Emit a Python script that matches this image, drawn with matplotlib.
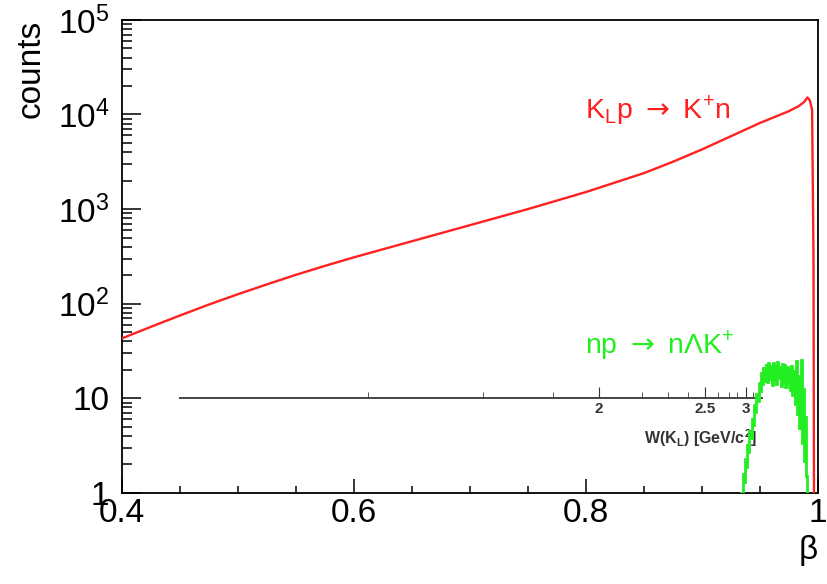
import numpy as np
import matplotlib
matplotlib.use('Agg')
import matplotlib.pyplot as plt
from matplotlib.ticker import LogLocator, NullFormatter, MultipleLocator

plt.rcParams['font.family'] = ['Liberation Sans', 'DejaVu Sans']
plt.rcParams['mathtext.fontset'] = 'custom'
plt.rcParams['mathtext.rm'] = 'Liberation Sans'
plt.rcParams['mathtext.sf'] = 'DejaVu Sans'

# K_L p -> K+ n, beta spectrum
beta_kl = [0.400, 0.425, 0.450, 0.475, 0.500, 0.525, 0.550, 0.575, 0.600, 0.625,
           0.650, 0.675, 0.700, 0.725, 0.750, 0.775, 0.800, 0.825, 0.850, 0.875,
           0.900, 0.925, 0.950, 0.965, 0.975, 0.983, 0.988, 0.991, 0.993, 0.995,
           0.9962, 0.9968]
counts_kl = [43, 57, 75, 98, 126, 160, 202, 251, 309, 376,
             457, 556, 676, 822, 1000, 1230, 1514, 1905, 2399, 3162,
             4266, 5888, 8128, 9661, 10839, 12162, 13490, 15136, 14125, 11220,
             300, 0.1]

# n p -> n Lambda K+, histogram with 0.001 wide bins from beta = 0.934
np_lo = 0.934
np_bin = 0.001
counts_np = [1.0, 1.6, 1.3, 2.3, 1.9, 3.2, 2.7, 4.5, 3.8, 6.1,
             5.2, 8.4, 7.1, 11.2, 9.4, 14.6, 12.0, 18.3, 14.1, 21.0,
             15.2, 22.6, 14.8, 23.4, 16.0, 21.7, 13.9, 23.8, 15.5, 22.1,
             14.3, 24.0, 16.4, 21.2, 13.6, 23.1, 15.0, 22.4, 13.2, 21.5,
             14.7, 20.3, 12.1, 22.0, 10.8, 19.4, 8.6, 24.8, 6.9, 17.2,
             4.8, 25.5, 3.4, 12.6, 2.2, 6.3, 1.5]

# W(K_L) scale drawn at counts = 10 : beta position of each W tick
w_major_beta = [0.811, 0.903, 0.938]
w_major_lab = ['2', '2.5', '3']
w_minor_beta = [0.612, 0.711, 0.772, 0.848, 0.871, 0.888, 0.914, 0.923, 0.930, 0.944, 0.948]

x_ticks = [0.4, 0.6, 0.8, 1.0]
x_labels = ['0.4', '0.6', '0.8', '1']
y_ticks = [1, 10, 100, 1e3, 1e4, 1e5]
y_labels = ['1', '10', r'$\mathregular{10^{2}}$', r'$\mathregular{10^{3}}$',
            r'$\mathregular{10^{4}}$', r'$\mathregular{10^{5}}$']

fig = plt.figure(figsize=(8.27, 5.84), dpi=100)
ax = fig.add_axes([0.1475, 0.156, 0.8415, 0.81])

ax.plot(beta_kl, counts_kl, color='#ff2020', lw=1.7, zorder=3)
edges = np_lo + np_bin * np.arange(len(counts_np) + 1)
ax.stairs(counts_np, edges, color='#22ee22', lw=2.0, zorder=4)

ax.set_yscale('log')
ax.set_xlim(0.4, 1.0)
ax.set_ylim(1, 1e5)

ax.set_xticks(x_ticks, x_labels)
ax.xaxis.set_minor_locator(MultipleLocator(0.05))
ax.set_yticks(y_ticks, y_labels)
ax.yaxis.set_minor_locator(LogLocator(base=10, subs=np.arange(2, 10)))
ax.yaxis.set_minor_formatter(NullFormatter())

ax.tick_params(which='both', direction='in', top=False, right=False, labelsize=24, width=1.1)
ax.tick_params(axis='y', which='major', length=14, pad=9)
ax.tick_params(axis='y', which='minor', length=7)
ax.tick_params(axis='x', which='major', length=10, pad=4)
ax.tick_params(axis='x', which='minor', length=5)
for s in ax.spines.values():
    s.set_linewidth(1.3)

ax.set_ylabel('counts', fontsize=24, loc='top', labelpad=8)
ax.set_xlabel('β', fontsize=24, loc='right', labelpad=4)

# W(K_L) axis, sitting on the counts = 10 line
secax = ax.secondary_xaxis(0.2)
secax.spines['bottom'].set_bounds(0.45, 0.952)
secax.spines['bottom'].set_color('#444444')
secax.spines['bottom'].set_linewidth(1.4)
secax.set_xticks(w_major_beta, w_major_lab)
secax.set_xticks(w_minor_beta, minor=True)
secax.tick_params(which='both', direction='in', colors='#333333', labelsize=11, pad=3)
secax.tick_params(which='major', length=8)
secax.tick_params(which='minor', length=4)
for t in secax.get_xticklabels():
    t.set_fontweight('bold')
secax.set_xlabel(r'W(K$_\mathregular{L}$) [GeV/c$^\mathregular{2}$]', fontsize=11.5,
                 fontweight='bold', color='#333333', loc='right')
secax.xaxis.set_label_coords(0.913, 0.138, transform=ax.transAxes)

ax.text(0.665, 0.81, r'K$_\mathregular{L}$p $\mathsf{\rightarrow}$ K$^\mathregular{+}$n', color='#ff2020',
        fontsize=20.5, transform=ax.transAxes, va='center')
ax.text(0.665, 0.313, r'np $\mathsf{\rightarrow}$ nΛK$^\mathregular{+}$', color='#22ee22',
        fontsize=20.5, transform=ax.transAxes, va='center')

fig.savefig('out.png', dpi=100)
